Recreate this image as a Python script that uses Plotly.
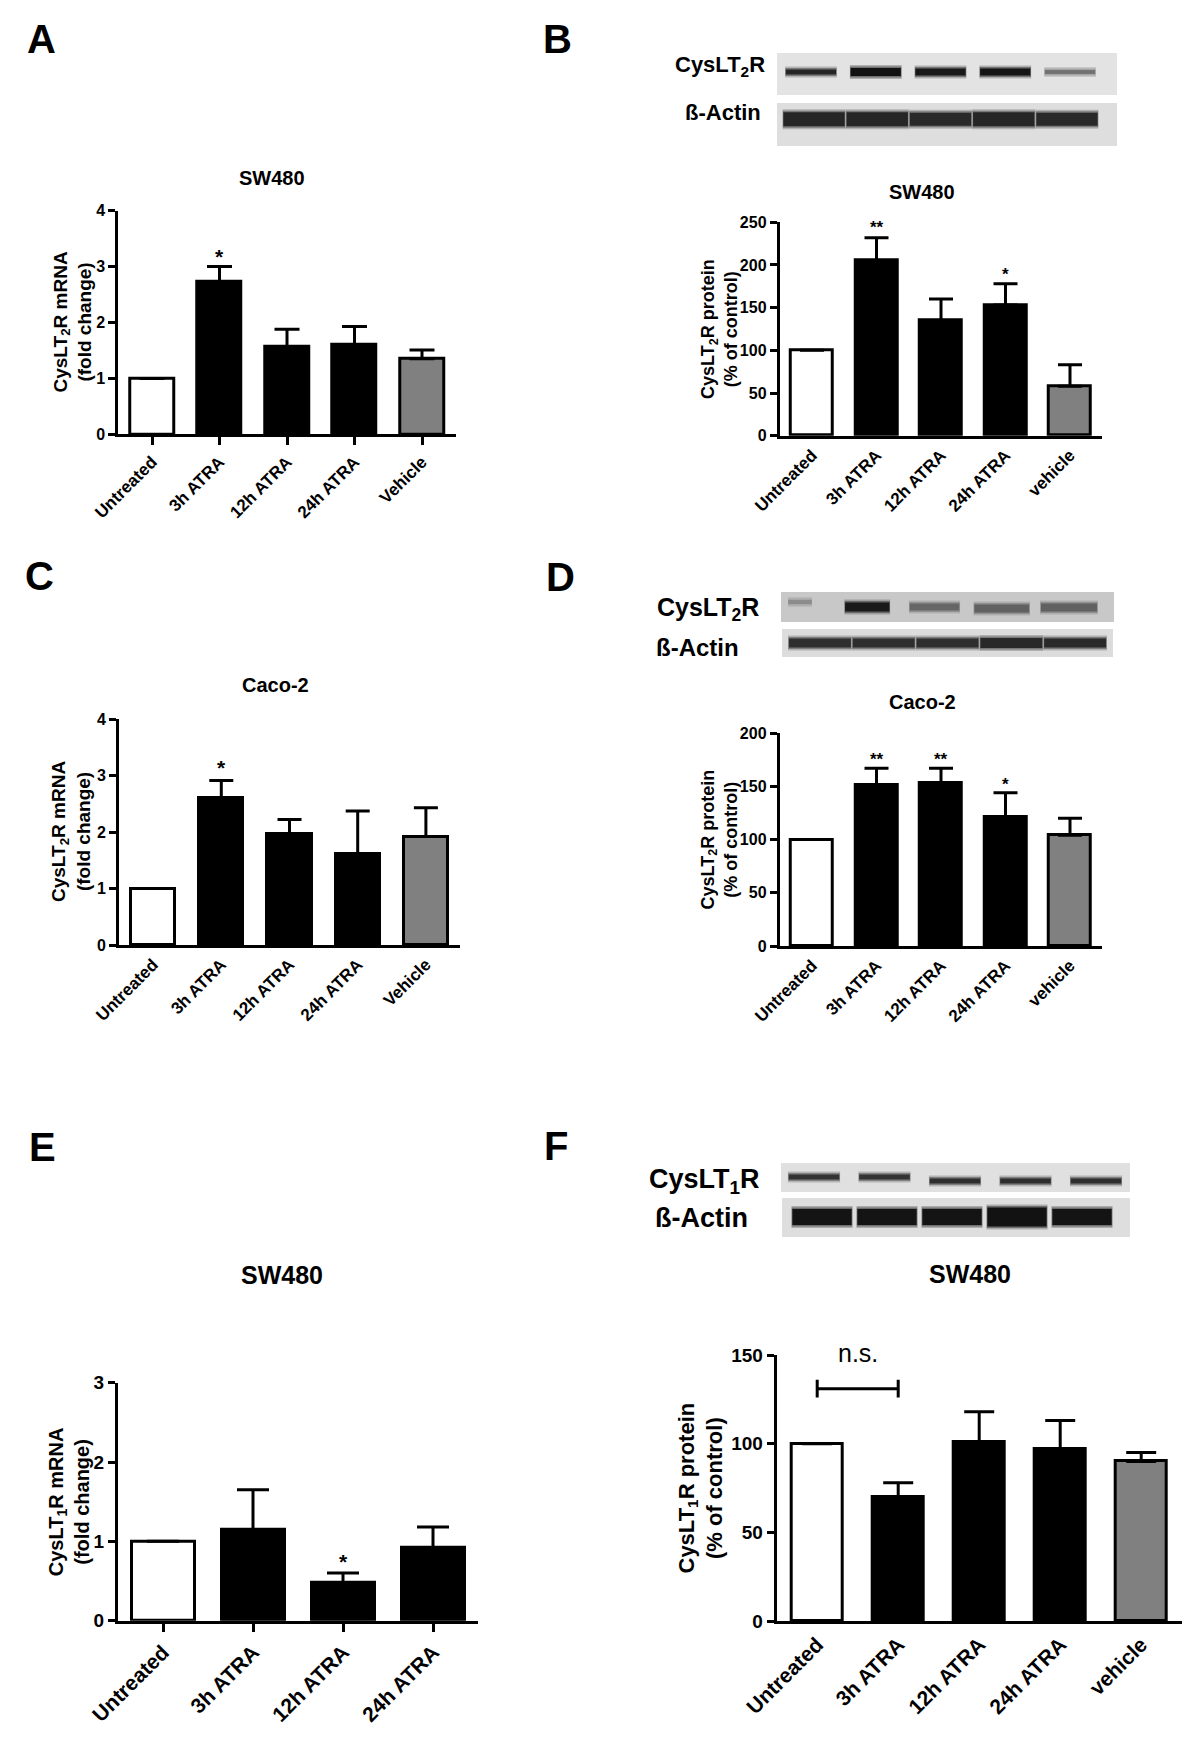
import plotly.graph_objects as go

W, H = 1200, 1746
FONT = "Liberation Sans, Arial, Helvetica, sans-serif"

# ------------------------------------------------------------------ data
cats5 = ["Untreated", "3h ATRA", "12h ATRA", "24h ATRA", "Vehicle"]
cats5_lc = ["Untreated", "3h ATRA", "12h ATRA", "24h ATRA", "vehicle"]
cats4 = ["Untreated", "3h ATRA", "12h ATRA", "24h ATRA"]
fills = ["white", "black", "black", "black", "#808080"]

# A: SW480 CysLT2R mRNA (fold change)
a_mean = [1.0, 2.73, 1.56, 1.60, 1.35]
a_top = [1.0, 3.00, 1.88, 1.93, 1.51]
a_stars = ["", "*", "", "", ""]
a_star_y = [0, 3.24, 0, 0, 0]

# B: SW480 CysLT2R protein (% of control)
b_mean = [100, 205, 135, 153, 58]
b_top = [100, 232, 160, 178, 83]
b_stars = ["", "**", "", "*", ""]
b_star_y = [0, 247, 0, 192, 0]

# C: Caco-2 CysLT2R mRNA (fold change)
c_mean = [1.0, 2.60, 1.96, 1.61, 1.92]
c_top = [1.0, 2.91, 2.22, 2.37, 2.43]
c_stars = ["", "*", "", "", ""]
c_star_y = [0, 3.19, 0, 0, 0]

# D: Caco-2 CysLT2R protein (% of control)
d_mean = [100, 151, 153, 121, 104]
d_top = [100, 167, 167, 144, 120]
d_stars = ["", "**", "**", "*", ""]
d_star_y = [0, 178, 178, 154, 0]

# E: SW480 CysLT1R mRNA (fold change)
e_mean = [1.0, 1.15, 0.48, 0.92]
e_top = [1.0, 1.65, 0.60, 1.18]
e_stars = ["", "", "*", ""]
e_star_y = [0, 0, 0.79, 0]

# F: SW480 CysLT1R protein (% of control)
f_mean = [100, 70, 101, 97, 90]
f_top = [100, 78, 118, 113, 95]
f_stars = ["", "", "", "", ""]
f_star_y = [0, 0, 0, 0, 0]
ns_pair = (0, 1)
ns_y = 131
ns_cap = 5
ns_text_y = 150

# Western blot band appearance (per lane)
blot_b_cys_thick = [5, 8, 7, 7, 4]
blot_b_cys_dark = [0.85, 0.93, 0.90, 0.92, 0.55]
blot_b_act_thick = [14, 14, 13, 14, 13]
blot_b_act_dark = [0.85, 0.85, 0.84, 0.85, 0.84]
blot_d_cys_thick = [4, 9, 7, 8, 8]
blot_d_cys_dark = [0.45, 0.90, 0.60, 0.62, 0.62]
blot_d_act_thick = [9, 9, 9, 10, 9]
blot_d_act_dark = [0.82, 0.82, 0.82, 0.84, 0.84]
blot_f_cys_thick = [5, 5, 5, 5, 5]
blot_f_cys_dark = [0.80, 0.80, 0.82, 0.82, 0.82]
blot_f_act_thick = [16, 16, 16, 19, 16]
blot_f_act_dark = [0.92, 0.92, 0.92, 0.93, 0.92]

# ------------------------------------------------------------------ helpers
fig = go.Figure()
axes = {}
annotations = []
shapes = []


def names(n):
    s = "" if n == 1 else str(n)
    return "x" + s, "y" + s, "xaxis" + s, "yaxis" + s


def txt(text, x, y, size, bold=True, xanchor="center", yanchor="middle", angle=0):
    annotations.append(dict(
        text=text, x=x / W, y=1 - y / H, xref="paper", yref="paper",
        xanchor=xanchor, yanchor=yanchor, showarrow=False, textangle=angle,
        font=dict(family=FONT, size=size, color="black",
                  weight="bold" if bold else "normal")))


def bar_panel(n, cats, mean, top, stars, star_y, ymax, dtick, xdom, ydom,
              xticks, tick_fs, xtick_fs, bar_w, cap_w, star_fs):
    xr, yr, xa, ya = names(n)
    xs = list(range(len(cats)))
    err = [t - m for t, m in zip(top, mean)]
    fig.add_trace(go.Bar(
        x=xs, y=mean, width=bar_w, xaxis=xr, yaxis=yr,
        marker=dict(color=fills[:len(cats)], line=dict(color="black", width=3)),
        error_y=dict(type="data", symmetric=False, array=err,
                     arrayminus=[0] * len(cats), color="black",
                     thickness=3, width=cap_w),
        showlegend=False, hoverinfo="skip"))
    axes[xa] = dict(
        domain=[xdom[0] / W, xdom[1] / W], anchor=yr,
        range=[-0.5, len(cats) - 0.5], tickmode="array", tickvals=xs,
        ticktext=cats, tickangle=-45, showline=True, linecolor="black",
        linewidth=3, showgrid=False, zeroline=False, automargin=False,
        ticks="outside" if xticks else "", ticklen=8, tickwidth=2.5,
        tickcolor="black",
        tickfont=dict(family=FONT, size=xtick_fs, color="black", weight="bold"))
    axes[ya] = dict(
        domain=[1 - ydom[1] / H, 1 - ydom[0] / H], anchor=xr,
        range=[0, ymax], tickmode="linear", tick0=0, dtick=dtick,
        showline=True, linecolor="black", linewidth=3, showgrid=False,
        zeroline=False, ticks="outside", ticklen=7, tickwidth=2.5,
        tickcolor="black", automargin=False,
        tickfont=dict(family=FONT, size=tick_fs, color="black", weight="bold"))
    for i, (s, sy) in enumerate(zip(stars, star_y)):
        if s:
            annotations.append(dict(
                text=s, x=i, y=sy, xref=xr, yref=yr, showarrow=False,
                xanchor="center", yanchor="middle", yshift=-3,
                font=dict(family=FONT, size=star_fs, color="black",
                          weight="bold")))
    return xr, yr


def blot(n, box, lane_dom, band_y, thick, dark, halfw, bg):
    xr, yr, xa, ya = names(n)
    shapes.append(dict(type="rect", xref="paper", yref="paper",
                       x0=box[0] / W, x1=box[1] / W,
                       y0=1 - box[3] / H, y1=1 - box[2] / H,
                       fillcolor=bg, line=dict(width=0), layer="below"))
    bgv = int(bg[1:3], 16)
    layers = [(6, 0.25, 1.0), (3, 0.55, 0.99), (0, 1.0, 0.97), (-3, 1.0, 0.85)]
    for dw, mix, wf in layers:
        for i, (t, d) in enumerate(zip(thick, dark)):
            g = int(round(255 * (1 - d)))
            hw = (halfw[i] if isinstance(halfw, list) else halfw) * wf
            by = band_y[i] if isinstance(band_y, list) else band_y
            col = int(round(bgv + (g - bgv) * mix))
            fig.add_trace(go.Scatter(
                x=[i - hw, i + hw], y=[by, by], xaxis=xr, yaxis=yr,
                mode="lines",
                line=dict(color=f"rgb({col},{col},{col})", width=max(t + dw, 1)),
                showlegend=False, hoverinfo="skip"))
    axes[xa] = dict(domain=[lane_dom[0] / W, lane_dom[1] / W], range=[-0.5, 4.5],
                    visible=False, anchor=yr, automargin=False)
    axes[ya] = dict(domain=[1 - box[3] / H, 1 - box[2] / H], range=[0, 1],
                    visible=False, anchor=xr, automargin=False)


# ------------------------------------------------------------------ panels
bar_panel(1, cats5, a_mean, a_top, a_stars, a_star_y, 4, 1,
          (118.25, 455.75), (210.7, 434.3), True, 16, 17, 0.65, 12.5, 21)
bar_panel(2, cats5_lc, b_mean, b_top, b_stars, b_star_y, 250, 50,
          (779.75, 1102.25), (222.3, 435.7), False, 16, 17, 0.65, 12, 17)
bar_panel(3, cats5, c_mean, c_top, c_stars, c_star_y, 4, 1,
          (119, 460), (719, 945), False, 16, 17, 0.65, 12, 21)
bar_panel(4, cats5_lc, d_mean, d_top, d_stars, d_star_y, 200, 50,
          (779.75, 1102.25), (733, 946), False, 16, 17, 0.65, 12, 17)
bar_panel(5, cats4, e_mean, e_top, e_stars, e_star_y, 3, 1,
          (118, 478), (1382.7, 1620.7), True, 19, 21, 0.70, 16, 21)
fx, fy = bar_panel(6, cats5_lc, f_mean, f_top, f_stars, f_star_y, 150, 50,
                   (776.7, 1181.7), (1355, 1621), False, 19, 21, 0.64, 15, 21)

# n.s. bracket in F
a0, a1 = ns_pair
fig.add_trace(go.Scatter(
    x=[a0, a0, None, a0, a1, None, a1, a1],
    y=[ns_y - ns_cap, ns_y + ns_cap, None, ns_y, ns_y, None, ns_y - ns_cap, ns_y + ns_cap],
    xaxis=fx, yaxis=fy, mode="lines", line=dict(color="black", width=3),
    showlegend=False, hoverinfo="skip", cliponaxis=False))
annotations.append(dict(text="n.s.", x=(a0 + a1) / 2, y=ns_text_y, xref=fx, yref=fy,
                        showarrow=False, xanchor="center", yanchor="middle", yshift=2,
                        font=dict(family=FONT, size=25, color="black")))

# blots
blot(7, (777, 1117, 53, 95), (778.6, 1102.4), 0.55, blot_b_cys_thick, blot_b_cys_dark, 0.40, "#e3e3e3")
blot(8, (777, 1117, 103, 146), (782.4, 1098.6), 0.62, blot_b_act_thick, blot_b_act_dark, 0.50, "#dedede")
blot(9, (781, 1114, 592, 622), (766.4, 1102.6), [0.67, 0.5, 0.5, 0.45, 0.48],
     blot_d_cys_thick, blot_d_cys_dark, [0.18, 0.34, 0.38, 0.42, 0.43], "#c8c8c8")
blot(10, (782, 1113, 629, 657), (788, 1107), 0.5, blot_d_act_thick, blot_d_act_dark, 0.50, "#dcdcdc")
blot(11, (781, 1130, 1163, 1192), (778.75, 1131.25), [0.52, 0.52, 0.38, 0.38, 0.38],
     blot_f_cys_thick, blot_f_cys_dark, 0.37, "#e0e0e0")
blot(12, (782, 1130, 1198, 1237), (789.5, 1114.5), 0.51, blot_f_act_thick, blot_f_act_dark, 0.47, "#dedede")

# ------------------------------------------------------------------ texts
for letter, x, y in [("A", 25, 39), ("B", 541, 39), ("C", 23, 576),
                     ("D", 544, 577), ("E", 27, 1147), ("F", 542, 1146)]:
    txt(letter, x, y, 40, xanchor="left")

txt("SW480", 272, 178, 20)
txt("SW480", 922, 192, 20)
txt("Caco-2", 275, 685, 20)
txt("Caco-2", 922, 702, 20)
txt("SW480", 282, 1275, 25)
txt("SW480", 970, 1274, 25)

txt("CysLT<sub>2</sub>R mRNA<br>(fold change)", 72, 322.5, 19, angle=-90)
txt("CysLT<sub>2</sub>R protein<br>(% of control)", 719, 329, 18, angle=-90)
txt("CysLT<sub>2</sub>R mRNA<br>(fold change)", 71, 832, 19, angle=-90)
txt("CysLT<sub>2</sub>R protein<br>(% of control)", 719, 839.5, 18, angle=-90)
txt("CysLT<sub>1</sub>R mRNA<br>(fold change)", 68.5, 1501.7, 20, angle=-90)
txt("CysLT<sub>1</sub>R protein<br>(% of control)", 700.5, 1488, 22, angle=-90)

txt("CysLT<sub>2</sub>R", 767, 66, 22, xanchor="right")
txt("ß-Actin", 763, 113, 22, xanchor="right")
txt("CysLT<sub>2</sub>R", 761, 609, 25, xanchor="right")
txt("ß-Actin", 741, 647, 24, xanchor="right")
txt("CysLT<sub>1</sub>R", 762, 1181, 27, xanchor="right")
txt("ß-Actin", 750, 1218, 27, xanchor="right")

fig.update_layout(
    width=W, height=H, autosize=False,
    margin=dict(l=0, r=0, t=0, b=0, pad=0, autoexpand=False),
    paper_bgcolor="white", plot_bgcolor="rgba(0,0,0,0)",
    showlegend=False, bargap=0,
    annotations=annotations, shapes=shapes,
    font=dict(family=FONT, color="black"),
    **axes)

fig.write_html(
    "out.html", config={"displayModeBar": False},
    post_script="document.documentElement.style.margin='0';"
                "document.body.style.margin='0';document.body.style.padding='0';"
                "document.body.style.overflow='hidden';")
